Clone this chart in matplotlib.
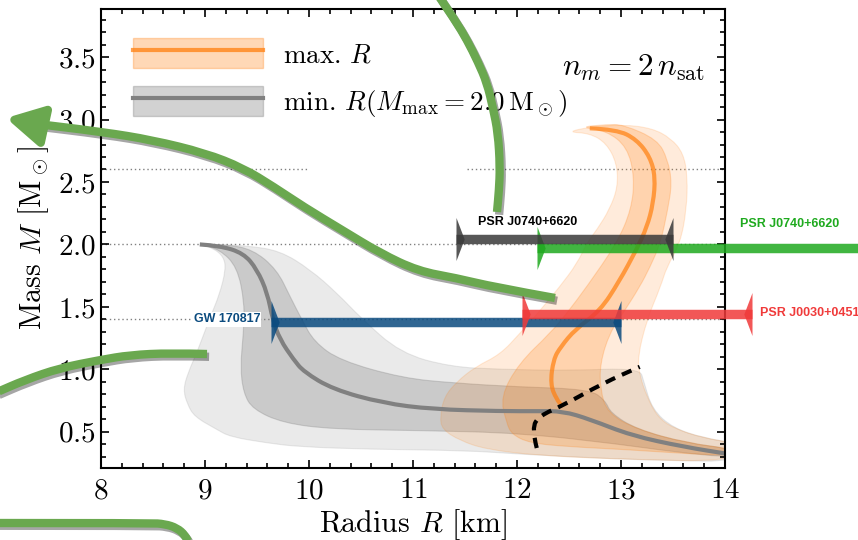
import numpy as np
import matplotlib
matplotlib.use("Agg")
import matplotlib.pyplot as plt
import matplotlib.patheffects as pe
from matplotlib.lines import Line2D
from matplotlib.patches import Patch, PathPatch, FancyArrowPatch, ArrowStyle
from matplotlib.path import Path

plt.rcParams['font.family'] = 'serif'
plt.rcParams['font.serif'] = ['cmr10']
plt.rcParams['mathtext.fontset'] = 'cm'
plt.rcParams['axes.formatter.use_mathtext'] = True

# mass-radius curve for the minimal-radius EoS (M_max = 2.0)
min_R = [8.95, 9.14, 9.37, 9.50, 9.60, 9.65, 9.72, 9.85, 9.95, 10.23, 10.71, 11.19,
         11.84, 12.20, 12.44, 12.70, 13.10, 13.60, 14.05]
min_M = [2.00, 1.99, 1.93, 1.80, 1.61, 1.40, 1.24, 1.08, 0.98, 0.84, 0.73, 0.68,
         0.665, 0.665, 0.665, 0.60, 0.47, 0.38, 0.32]

# outer / inner envelopes of the minimal-radius family (closed outlines)
min_outer_R = [8.95, 9.10, 9.40, 9.72, 10.01, 10.27, 10.50, 10.88, 11.36, 11.84, 12.50,
               13.18, 13.22, 13.30, 13.50, 13.80, 14.10, 14.10, 13.50, 13.00, 12.03,
               11.52, 10.56, 9.90, 9.60, 9.24, 9.11, 8.90, 8.83, 8.79, 8.84, 8.93,
               9.05, 9.14, 9.20, 9.18, 9.08]
min_outer_M = [2.00, 2.00, 1.99, 1.95, 1.80, 1.61, 1.41, 1.13, 1.02, 1.00, 0.99,
               1.01, 0.90, 0.68, 0.53, 0.45, 0.41, 0.26, 0.27, 0.28, 0.32,
               0.35, 0.36, 0.38, 0.41, 0.46, 0.52, 0.62, 0.72, 0.84, 0.98, 1.15,
               1.42, 1.60, 1.80, 1.90, 1.97]
min_inner_R = [8.95, 9.20, 9.46, 9.69, 9.82, 9.93, 10.05, 10.30, 10.90, 11.40, 12.00,
               12.70, 12.85, 12.90, 13.15, 13.63, 14.10, 14.10, 13.50, 12.99, 12.03,
               11.07, 10.23, 9.75, 9.46, 9.37, 9.34, 9.37, 9.38, 9.31, 9.14]
min_inner_M = [2.00, 2.00, 1.96, 1.80, 1.58, 1.40, 1.22, 1.07, 0.93, 0.89, 0.86,
               0.84, 0.75, 0.65, 0.52, 0.41, 0.36, 0.29, 0.34, 0.40, 0.49,
               0.51, 0.52, 0.57, 0.68, 0.81, 1.02, 1.29, 1.53, 1.82, 1.96]

# mass-radius curve for the maximal-radius EoS
max_R = [12.70, 12.96, 13.15, 13.28, 13.33, 13.31, 13.25, 13.15, 12.98, 12.80, 12.56,
         12.42, 12.35, 12.32, 12.38, 12.44]
max_M = [2.93, 2.92, 2.84, 2.70, 2.54, 2.33, 2.14, 1.96, 1.70, 1.47, 1.32,
         1.18, 1.08, 0.88, 0.76, 0.70]

max_outer_R = [12.48, 12.70, 13.02, 13.30, 13.48, 13.60, 13.64, 13.63, 13.57, 13.44,
               13.38, 13.25, 13.16, 13.18, 13.25, 13.35, 13.50, 13.79, 14.10, 14.10,
               13.00, 12.20, 11.70, 11.45, 11.28, 11.26, 11.30, 11.42, 11.60, 11.84,
               12.03, 12.20, 12.41, 12.58, 12.67, 12.77, 12.89, 12.97, 12.96, 12.86,
               12.70]
max_outer_M = [2.90, 2.94, 2.96, 2.93, 2.85, 2.73, 2.54, 2.28, 2.01, 1.82,
               1.66, 1.40, 1.10, 0.95, 0.78, 0.62, 0.53, 0.45, 0.41, 0.26,
               0.28, 0.31, 0.36, 0.43, 0.52, 0.62, 0.78, 0.90, 1.02, 1.12,
               1.29, 1.45, 1.66, 1.85, 2.01, 2.12, 2.28, 2.46, 2.65, 2.81,
               2.89]
max_inner_R = [12.60, 12.86, 13.02, 13.35, 13.45, 13.49, 13.45, 13.38, 13.28, 13.18,
               13.02, 12.89, 12.80, 12.80, 12.87, 13.15, 13.63, 14.10, 14.10, 13.00,
               12.50, 12.12, 11.95, 11.90, 11.84, 12.02, 12.32, 12.48, 12.67, 12.96,
               13.10, 13.13, 13.06, 12.86]
max_inner_M = [2.94, 2.96, 2.96, 2.84, 2.68, 2.49, 2.28, 2.01, 1.82, 1.66,
               1.45, 1.29, 1.05, 0.84, 0.65, 0.52, 0.41, 0.36, 0.30, 0.36,
               0.38, 0.41, 0.48, 0.57, 0.78, 1.05, 1.29, 1.45, 1.66, 2.01,
               2.28, 2.54, 2.78, 2.91]

# central density n_c = n_m along the family
dash_R = [12.19, 12.14, 12.22, 12.44, 12.83, 13.18]
dash_M = [0.37, 0.53, 0.63, 0.71, 0.89, 1.02]

# observational constraints
obs_names = ['GW 170817', 'PSR J0030+0451', 'PSR J0740+6620', 'PSR J0740+6620']
obs_lo = [9.63, 12.05, 12.19, 11.41]
obs_hi = [13.00, 14.26, 16.30, 13.50]
obs_M = [1.38, 1.44, 1.97, 2.04]
obs_colors = ['#0b4b7f', '#f03a3a', '#1faa1f', '#3a3a3a']

ref_masses = [2.0, 1.4]

MOVE, CURVE, LINE, CLOSE = Path.MOVETO, Path.CURVE3, Path.LINETO, Path.CLOSEPOLY


def smooth_path(xs, ys, closed=False):
    # quadratic splines through the midpoints, using the points as control points
    p = np.column_stack([xs, ys]).astype(float)
    if closed:
        mids = (p + np.roll(p, -1, axis=0)) / 2
        verts, codes = [mids[-1]], [MOVE]
        for i in range(len(p)):
            verts += [p[i], mids[i]]
            codes += [CURVE, CURVE]
        verts.append(mids[-1])
        codes.append(CLOSE)
    else:
        verts, codes = [p[0]], [MOVE]
        for i in range(1, len(p) - 1):
            verts += [p[i], (p[i] + p[i + 1]) / 2]
            codes += [CURVE, CURVE]
        verts.append(p[-1])
        codes.append(LINE)
    return Path(verts, codes)


fig = plt.figure(figsize=(8.58, 5.4), dpi=100)
ax = fig.add_axes([101 / 858, 72 / 540, 624 / 858, 459 / 540])

# reference mass lines
dot = dict(color='gray', lw=1.0, ls=(0, (1, 2)), zorder=0.5)
for m in ref_masses:
    ax.axhline(m, **dot)
ax.plot([8, 9.98], [2.6, 2.6], **dot)
ax.plot([11.52, 14], [2.6, 2.6], **dot)

gray = '#808080'
orange = '#ff7f0e'
bands = [(min_outer_R, min_outer_M, gray, 0.16, 1.0),
         (min_inner_R, min_inner_M, gray, 0.30, 1.1),
         (max_outer_R, max_outer_M, orange, 0.15, 1.2),
         (max_inner_R, max_inner_M, orange, 0.22, 1.3)]
for xs, ys, c, a, z in bands:
    ax.add_patch(PathPatch(smooth_path(xs, ys, closed=True), fc=c, ec=c, alpha=a,
                           lw=0.8, zorder=z))

ax.add_patch(PathPatch(smooth_path(max_R, max_M), fill=False, ec=orange, alpha=0.7,
                       lw=3, zorder=2, capstyle='butt'))
ax.add_patch(PathPatch(smooth_path(min_R, min_M), fill=False, ec=gray, lw=3,
                       zorder=2.1, capstyle='butt'))
ax.add_patch(PathPatch(smooth_path(dash_R, dash_M), fill=False, ec='k', lw=3,
                       ls=(0, (2.5, 1.8)), zorder=2.2))

# error bars with triangular end caps
cap_l = [(0, -1), (0, 1), (0.38, 0), (0, -1)]
cap_r = [(0, -1), (0, 1), (-0.38, 0), (0, -1)]
for lo, hi, m, c in zip(obs_lo, obs_hi, obs_M, obs_colors):
    ax.plot([lo, hi], [m, m], color=c, lw=6.8, alpha=0.85, zorder=3,
            solid_capstyle='butt', clip_on=False)
    ax.plot([lo], [m], marker=cap_l, ms=31, color=c, alpha=0.85, mew=0,
            zorder=3, clip_on=False)
    ax.plot([hi], [m], marker=cap_r, ms=31, color=c, alpha=0.85, mew=0,
            zorder=3, clip_on=False)

lab = dict(family='Liberation Sans', fontweight='bold', fontsize=9)
ax.text(obs_lo[0] - 0.1, ref_masses[1], obs_names[0], color=obs_colors[0], ha='right',
        va='center', zorder=2.5, bbox=dict(fc='white', ec='none', pad=1), **lab)
ax.text(14.34, 1.45, obs_names[1], color=obs_colors[1], ha='left',
        va='center', clip_on=False, **lab)
ax.text(14.14, 2.16, obs_names[2], color=obs_colors[2], ha='left', va='center',
        clip_on=False, **lab)
ax.text(12.10, 2.18, obs_names[3], color='black', ha='center', va='center', **lab)

ax.text(13.12, 3.41, r'$n_m = 2\,n_\mathrm{sat}$', ha='center', va='center', fontsize=22.5)

ax.set_xlim(8, 14)
ax.set_ylim(0.21, 3.885)
ax.set_xticks(np.arange(8, 15, 1))
ax.set_yticks([0.5, 1.0, 1.5, 2.0, 2.5, 3.0, 3.5])
ax.set_xticks(np.arange(8, 14.01, 0.2), minor=True)
ax.set_yticks(np.arange(0.3, 3.85, 0.1), minor=True)
ax.tick_params(which='both', direction='in', top=True, right=True, labelsize=21, width=1.2)
ax.tick_params(which='major', length=6)
ax.tick_params(which='minor', length=3.5)
ax.tick_params(axis='x', pad=7)
for s in ax.spines.values():
    s.set_linewidth(1.5)
ax.set_xlabel(r'Radius $R$ [km]', fontsize=21.5, labelpad=2)
ax.set_ylabel(r'Mass $M$ $[\mathrm{M}_\odot]$', fontsize=21.5, labelpad=5)

h_max = (Patch(fc=orange, alpha=0.3, ec=orange, lw=1), Line2D([], [], color=orange, alpha=0.75, lw=3))
h_min = (Patch(fc=gray, alpha=0.35, ec=gray, lw=1), Line2D([], [], color=gray, lw=3))
ax.legend([h_max, h_min],
          [r'max. $R$', r'min. $R(M_\mathrm{max} = 2.0\,\mathrm{M}_\odot)$'],
          loc='upper left', frameon=False, fontsize=19.5, handlelength=4.8,
          handleheight=1.3, handletextpad=0.75, labelspacing=0.68,
          borderaxespad=0, bbox_to_anchor=(0.034, 0.96))

# green hand-drawn pointers on top of the figure (pixel coordinates, y downward)
green = '#6aa84f'
arc_top = [(438, -5), (455, 20), (467, 40), (478, 62), (487, 83), (493, 108),
           (498, 133), (500, 167), (499, 190), (497, 212)]
arrow_path = [(555, 298), (494, 287), (456, 278), (418, 271), (380, 253), (342, 230),
              (304, 207), (274, 187), (243, 168), (205, 153), (152, 140), (103, 132),
              (29, 123)]
arrow_tip = (6, 118)
curve_left = [(207, 354), (170, 353), (130, 355), (100, 360), (60, 368), (25, 380),
              (-5, 393)]
corner = [(-5, 523), (150, 523), (165, 524), (177, 528), (185, 535), (190, 545)]


def to_fig(pts):
    pts = np.asarray(pts, dtype=float)
    return np.column_stack([pts[:, 0] / 858, 1 - pts[:, 1] / 540])


shadow = [pe.SimpleLineShadow(offset=(1.5, -2), alpha=0.35, shadow_color='k'), pe.Normal()]
for pts in [arc_top, arrow_path, curve_left, corner]:
    xy = to_fig(pts)
    fig.add_artist(PathPatch(smooth_path(xy[:, 0], xy[:, 1]), transform=fig.transFigure,
                             fill=False, ec=green, lw=6, capstyle='butt',
                             joinstyle='round', path_effects=shadow, zorder=10))

head = to_fig([arrow_path[-1], arrow_tip])
fig.add_artist(FancyArrowPatch(posA=tuple(head[0]), posB=tuple(head[1]),
                               transform=fig.transFigure, shrinkA=0, shrinkB=0,
                               arrowstyle=ArrowStyle('-|>', head_length=1.0, head_width=0.55),
                               mutation_scale=22, color=green, lw=6, capstyle='butt',
                               zorder=10))

fig.savefig('out.png', dpi=100)
